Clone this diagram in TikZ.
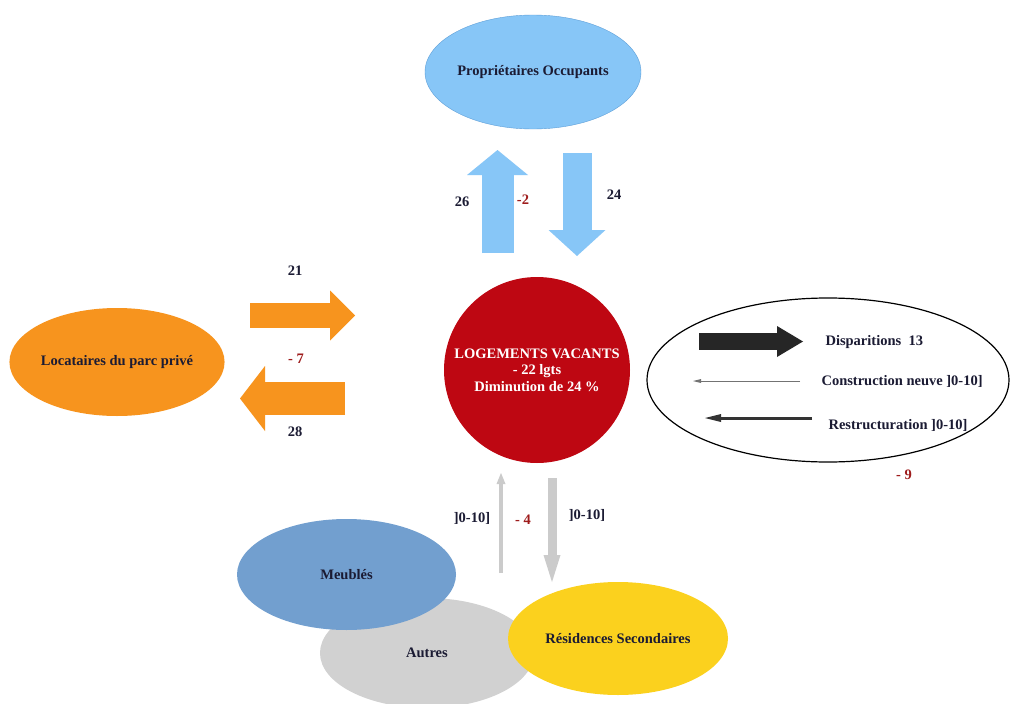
\documentclass[tikz,border=0pt]{standalone}
\usepackage{fontspec}
\setmainfont{Liberation Serif}
\usetikzlibrary{shapes.geometric,arrows.meta}
\definecolor{ink}{HTML}{1B1B33}
\definecolor{chiffrerouge}{HTML}{9E1C1C}
\definecolor{bleuclair}{HTML}{87C6F7}
\definecolor{bleubord}{HTML}{5E9FD8}
\definecolor{rougevac}{HTML}{BE0712}
\definecolor{orange}{HTML}{F7941E}
\definecolor{bleumeuble}{HTML}{729FCF}
\definecolor{grisautre}{HTML}{D1D1D1}
\definecolor{jaune}{HTML}{FBD11E}
\definecolor{grisfleche}{HTML}{CBCBCB}
\begin{document}
\begin{tikzpicture}[x=1pt,y=-1pt,
  every node/.style={font=\fontsize{14.5}{16.5}\selectfont\bfseries, text=ink},
  bulle/.style={ellipse, inner sep=0pt},
  rouge/.style={text=chiffrerouge},
  fleche/.style n args={4}{draw=#1, line width=#2pt, -{Triangle[width=#3pt,length=#4pt,line width=0pt]}}]
\useasboundingbox[fill=white] (0,0) rectangle (1010,704);

\node[bulle, fill=bleuclair, draw=bleubord, minimum width=216pt, minimum height=114pt] (proprio) at (533,72) {Propriétaires Occupants};
\node[bulle, fill=orange, minimum width=214pt, minimum height=108pt] (locataires) at (117,362) {Locataires du parc privé};
\node[circle, fill=rougevac, minimum size=186pt, inner sep=0pt, text=white, align=center] (vacants) at (537,370) {LOGEMENTS VACANTS\\- 22 lgts\\Diminution de 24 \%};
\node[bulle, draw=black, line width=1.2pt, minimum width=362pt, minimum height=164pt] (bilan) at (828,380) {};
\node[bulle, fill=grisautre, minimum width=214pt, minimum height=110pt] (autres) at (427,653) {Autres};
\node[bulle, fill=bleumeuble, minimum width=219pt, minimum height=111pt] (meubles) at (346.5,574.5) {Meublés};
\node[bulle, fill=jaune, minimum width=220pt, minimum height=113pt] (residences) at (618,638.5) {Résidences Secondaires};

\coordinate (po-s) at (497.5,253); \coordinate (po-e) at (497.5,150);
\coordinate (op-s) at (577,153);   \coordinate (op-e) at (577,256);
\coordinate (lv-s) at (250,315.5); \coordinate (lv-e) at (355,315.5);
\coordinate (vl-s) at (345,398.5); \coordinate (vl-e) at (240,398.5);
\coordinate (disp-s) at (699,341.5); \coordinate (disp-e) at (803,341.5);
\coordinate (cons-s) at (800,381); \coordinate (cons-e) at (693,381);
\coordinate (rest-s) at (812,418); \coordinate (rest-e) at (705,418);
\coordinate (mv-s) at (501,573);   \coordinate (mv-e) at (501,473);
\coordinate (vr-s) at (552,478);   \coordinate (vr-e) at (552,582);

\draw[fleche={bleuclair}{32}{61}{25}] (po-s) -- (po-e);
\draw[fleche={bleuclair}{29}{57}{26}] (op-s) -- (op-e);
\draw[fleche={orange}{25}{50}{25}] (lv-s) -- (lv-e);
\draw[fleche={orange}{33}{65}{25}] (vl-s) -- (vl-e);
\draw[fleche={black!85}{17}{31}{26}] (disp-s) -- (disp-e);
\draw[fleche={black!55}{1}{4}{8}] (cons-s) -- (cons-e);
\draw[fleche={black!80}{3}{8}{16}] (rest-s) -- (rest-e);
\draw[fleche={grisfleche}{4}{9}{11}] (mv-s) -- (mv-e);
\draw[fleche={grisfleche}{9}{17}{27}] (vr-s) -- (vr-e);

\node (n26) at (462,202) {26};
\node[rouge] (n-2) at (523,200) {-2};
\node (n24) at (614,195) {24};
\node (n21) at (295,271) {21};
\node[rouge] (n-7) at (296,359) {- 7};
\node (n28) at (295,432) {28};
\node[rouge] (n-9) at (904,475) {- 9};
\node (mv-lab) at (472,518) {]0-10]};
\node[rouge] (n-4) at (523,520) {- 4};
\node (vr-lab) at (587,515) {]0-10]};
\node[anchor=west] (disp-lab) at (822,342) {Disparitions\ \ 13};
\node[anchor=west] (cons-lab) at (818,381) {Construction neuve ]0-10]};
\node[anchor=west] (rest-lab) at (825,425) {Restructuration ]0-10]};
\end{tikzpicture}
\end{document}
